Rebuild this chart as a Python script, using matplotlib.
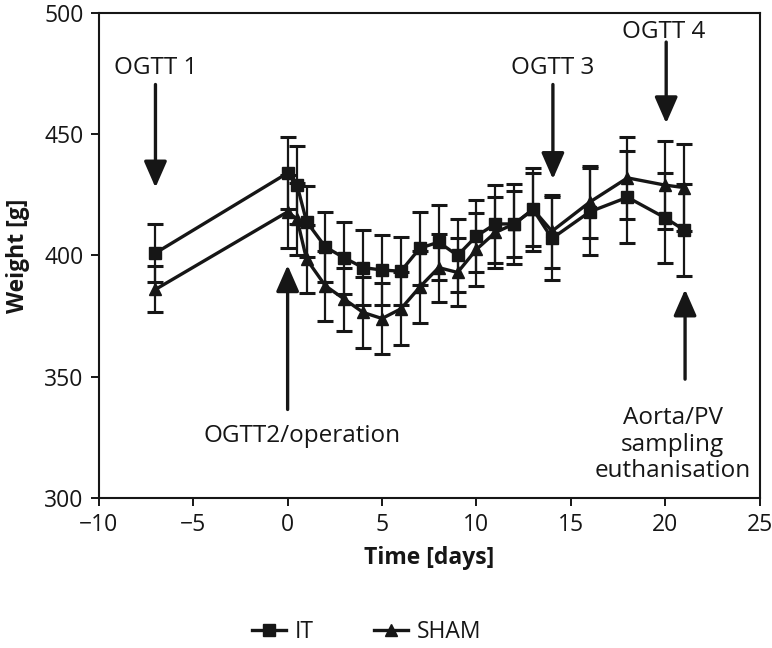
import matplotlib
matplotlib.use("Agg")
import matplotlib.pyplot as plt
from matplotlib.lines import Line2D

plt.rcParams['font.family'] = ['Open Sans', 'DejaVu Sans']

days = [-7, 0, 0.5, 1, 2, 3, 4, 5, 6, 7, 8, 9, 10, 11, 12, 13, 14, 16, 18, 20, 21]
it_mean = [401, 434, 429, 414, 403.5, 399, 395, 394, 393.5, 403, 405.5, 400, 408, 413, 413, 419, 407, 418, 424, 415.5, 410.5]
it_err = [12, 15, 16, 14.5, 14.5, 15, 15.5, 14.5, 14, 15, 15.5, 15, 15, 16, 16.5, 17, 17, 18, 19, 18.5, 19]
sham_mean = [386, 418, 415, 398.5, 387.5, 382, 376.5, 374, 378, 387, 395, 393, 402.5, 409.5, 413, 419, 410, 422, 432, 429, 428]
sham_err = [9.5, 15, 15, 14, 14.5, 13, 14.5, 14.5, 15, 15, 14, 14, 15, 14.5, 13.5, 15, 15, 15, 17, 18, 18]

xticks = [-10, -5, 0, 5, 10, 15, 20, 25]
yticks = [300, 350, 400, 450, 500]

C = '#161616'

fig = plt.figure(figsize=(7.72, 6.48), dpi=100)
ax = fig.add_axes([0.128, 0.2315, 0.856, 0.7485])

eb_kw = dict(color=C, ecolor=C, elinewidth=1.6, capsize=6, capthick=2.2, lw=2.4, markersize=9)
ax.errorbar(days, it_mean, yerr=it_err, marker='s', **eb_kw, zorder=3)
ax.errorbar(days, sham_mean, yerr=sham_err, marker='^', **eb_kw, zorder=3)

ax.set_xlim(-10, 25)
ax.set_ylim(300, 500)
ax.set_xticks(xticks)
ax.set_yticks(yticks)
ax.tick_params(labelsize=16.5, length=6, width=1.4, direction='out', color=C, labelcolor=C, pad=5)
for s in ax.spines.values():
    s.set_linewidth(1.5)
    s.set_color(C)

ax.set_xlabel('Time [days]', fontsize=16.5, fontweight='bold', color=C, labelpad=6)
ax.set_ylabel('Weight [g]', fontsize=16.5, fontweight='bold', color=C, labelpad=10)

aprops = dict(arrowstyle='-|>,head_width=0.7,head_length=1.6', mutation_scale=10,
              lw=2.4, color=C, shrinkA=0, shrinkB=0)

def arrow(x, y0, y1):
    ax.annotate('', xy=(x, y1), xytext=(x, y0), arrowprops=aprops, zorder=4)

arrow(-7, 470.5, 428)
arrow(0, 336.5, 396)
arrow(14.05, 470.5, 431.5)
arrow(20.05, 488, 454.5)
arrow(21.05, 349, 386)

tk = dict(fontsize=17.5, color=C, ha='center', va='center')
ax.text(-7, 477.5, 'OGTT 1', **tk)
ax.text(0.75, 325.5, 'OGTT2/operation', **tk)
ax.text(14.05, 477.5, 'OGTT 3', **tk)
ax.text(19.9, 492, 'OGTT 4', **tk)
ax.text(20.4, 322, 'Aorta/PV\nsampling\neuthanisation', linespacing=1.15, **tk)

handles = [Line2D([], [], color=C, lw=2.4, marker='s', markersize=8),
           Line2D([], [], color=C, lw=2.4, marker='^', markersize=8)]
fig.legend(handles, ['IT', 'SHAM'], loc='center', bbox_to_anchor=(0.475, 0.025),
           ncol=2, frameon=False, fontsize=16.5, handlelength=1.5, handletextpad=0.4,
           columnspacing=2.6, labelcolor=C)

fig.savefig('out.png', dpi=100)
